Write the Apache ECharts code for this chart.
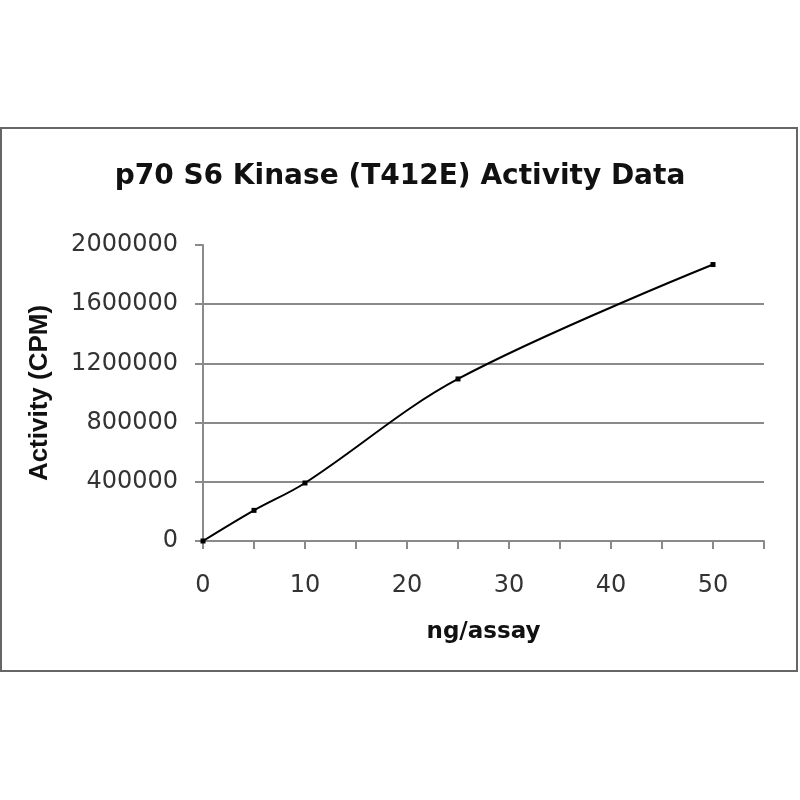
<!DOCTYPE html>
<html>
<head>
<meta charset="utf-8">
<script src="https://cdn.jsdelivr.net/npm/echarts@6/dist/echarts.min.js"></script>
<style>html,body{margin:0;padding:0;background:#fff;}#c{width:800px;height:800px;}</style>
</head>
<body>
<div id="c"></div>
<script>
const titleText = 'p70 S6 Kinase (T412E) Activity Data';
const xName = 'ng/assay';
const yName = 'Activity (CPM)';
const xValues = [0, 5, 10, 25, 50];
const yValues = [0, 207000, 392000, 1095000, 1868000];
const gridValues = [400000, 800000, 1200000, 1600000];

const chart = echarts.init(document.getElementById('c'));
chart.setOption({
  animation: false,
  backgroundColor: '#fff',
  title: {
    text: titleText,
    left: 'center',
    top: 158,
    textStyle: { fontFamily: 'DejaVu Sans', fontWeight: 'bold', fontSize: 28, color: '#111' }
  },
  graphic: [{
    type: 'rect',
    shape: { x: 1, y: 128, width: 796, height: 543 },
    style: { fill: 'none', stroke: '#666', lineWidth: 2 }
  }],
  grid: { left: 203, right: 36, top: 245, bottom: 259 },
  xAxis: {
    type: 'value', min: 0, max: 55, interval: 5,
    name: xName, nameLocation: 'middle', nameGap: 80,
    nameTextStyle: { fontFamily: 'DejaVu Sans', fontWeight: 'bold', fontSize: 23, color: '#111' },
    axisLine: { show: true, lineStyle: { color: '#8a8a8a', width: 2 } },
    axisTick: { show: true, length: 8, lineStyle: { color: '#8a8a8a', width: 2 } },
    splitLine: { show: false },
    axisLabel: {
      margin: 33, fontFamily: 'DejaVu Sans', fontSize: 24, color: '#333',
      formatter: v => (v % 10 === 0 && v <= 50) ? String(v) : ''
    }
  },
  yAxis: {
    type: 'value', min: 0, max: 2000000, interval: 400000,
    name: yName, nameLocation: 'middle', nameGap: 150,
    nameTextStyle: { fontFamily: 'Liberation Sans', fontWeight: 'bold', fontSize: 26, color: '#111' },
    axisLine: { show: true, lineStyle: { color: '#8a8a8a', width: 2 } },
    axisTick: { show: true, length: 8, lineStyle: { color: '#8a8a8a', width: 2 } },
    splitLine: { show: false },
    axisLabel: { margin: 25, fontFamily: 'DejaVu Sans', fontSize: 24, color: '#333', formatter: v => String(v) }
  },
  series: [
    {
      type: 'line', data: [], silent: true,
      markLine: {
        silent: true, symbol: 'none', label: { show: false },
        lineStyle: { color: '#8a8a8a', width: 2, type: 'solid' },
        data: gridValues.map(v => ({ yAxis: v }))
      }
    },
    {
      type: 'line',
      data: xValues.map((x, i) => [x, yValues[i]]),
      smooth: 0.35,
      symbol: 'rect', symbolSize: 5,
      itemStyle: { color: '#000' },
      lineStyle: { color: '#000', width: 2 },
      z: 5
    }
  ]
});
</script>
</body>
</html>
